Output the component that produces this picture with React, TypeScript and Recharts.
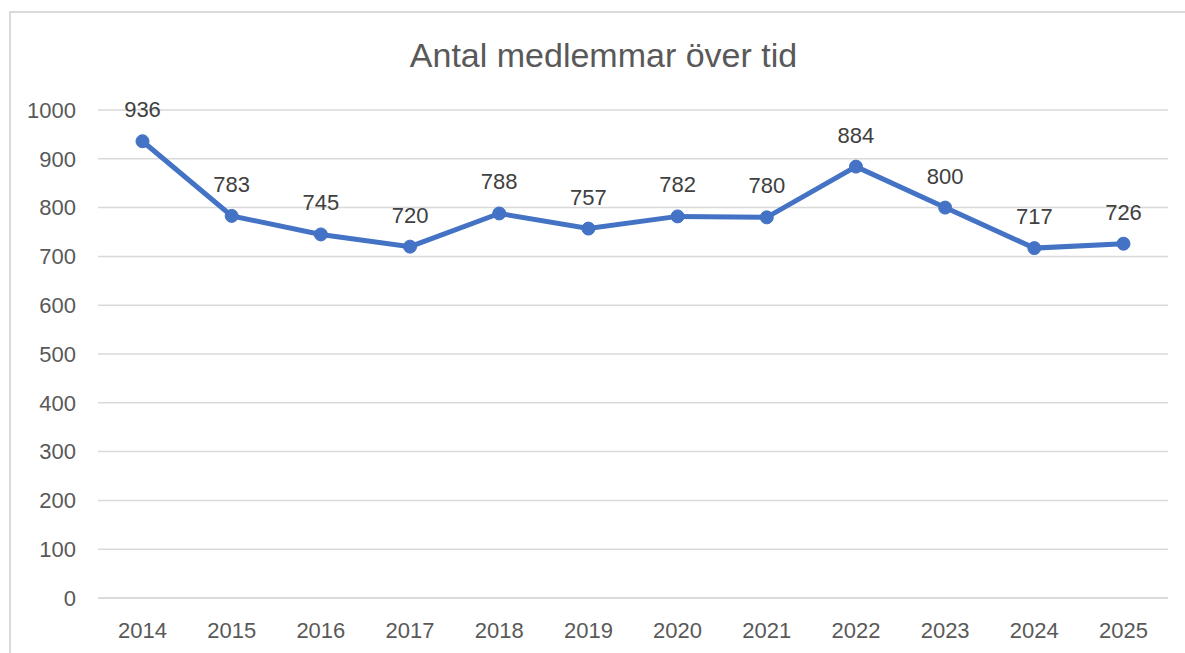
import React from "react";
import { LineChart, Line, XAxis, YAxis, CartesianGrid, LabelList } from "recharts";

const years = ["2014", "2015", "2016", "2017", "2018", "2019", "2020", "2021", "2022", "2023", "2024", "2025"];
const members = [936, 783, 745, 720, 788, 757, 782, 780, 884, 800, 717, 726];
const yTicks = [0, 100, 200, 300, 400, 500, 600, 700, 800, 900, 1000];

const data = years.map((year, i) => ({ year, members: members[i] }));

const font = "'Liberation Sans', Arial, sans-serif";

export default function App() {
  return (
    <div style={{ position: "absolute", left: 0, top: 0, width: 1185, height: 653, background: "#fff", overflow: "hidden" }}>
      <div
        style={{
          position: "absolute",
          left: 9,
          top: 11,
          width: 1200,
          height: 700,
          borderLeft: "2px solid #d9d9d9",
          borderTop: "2px solid #d9d9d9",
        }}
      />
      <div
        style={{
          position: "absolute",
          left: 11,
          top: 35,
          width: 1185,
          textAlign: "center",
          fontFamily: font,
          fontSize: 34,
          lineHeight: "40px",
          color: "#595959",
        }}
      >
        Antal medlemmar över tid
      </div>
      <div style={{ position: "absolute", left: 0, top: 0 }}>
        <LineChart width={1185} height={653} data={data} margin={{ top: 110, right: 17, bottom: 25, left: 0 }}>
          <CartesianGrid vertical={false} stroke="#d9d9d9" strokeWidth={1.5} />
          <XAxis
            dataKey="year"
            height={30}
            padding={{ left: 44.5, right: 44.5 }}
            tickLine={false}
            axisLine={{ stroke: "#d9d9d9", strokeWidth: 1.5 }}
            tick={{ fill: "#595959", fontSize: 22, fontFamily: font }}
            tickMargin={18}
          />
          <YAxis
            width={98}
            domain={[0, 1000]}
            ticks={yTicks}
            interval={0}
            tickLine={false}
            axisLine={false}
            tick={{ fill: "#595959", fontSize: 22, fontFamily: font }}
            tickMargin={16}
          />
          <Line
            dataKey="members"
            stroke="#4472c4"
            strokeWidth={5}
            isAnimationActive={false}
            dot={{ r: 6.5, fill: "#4472c4", stroke: "#4472c4", strokeWidth: 1 }}
          >
            <LabelList dataKey="members" position="top" offset={24} fill="#404040" fontSize={22} fontFamily={font} />
          </Line>
        </LineChart>
      </div>
    </div>
  );
}
